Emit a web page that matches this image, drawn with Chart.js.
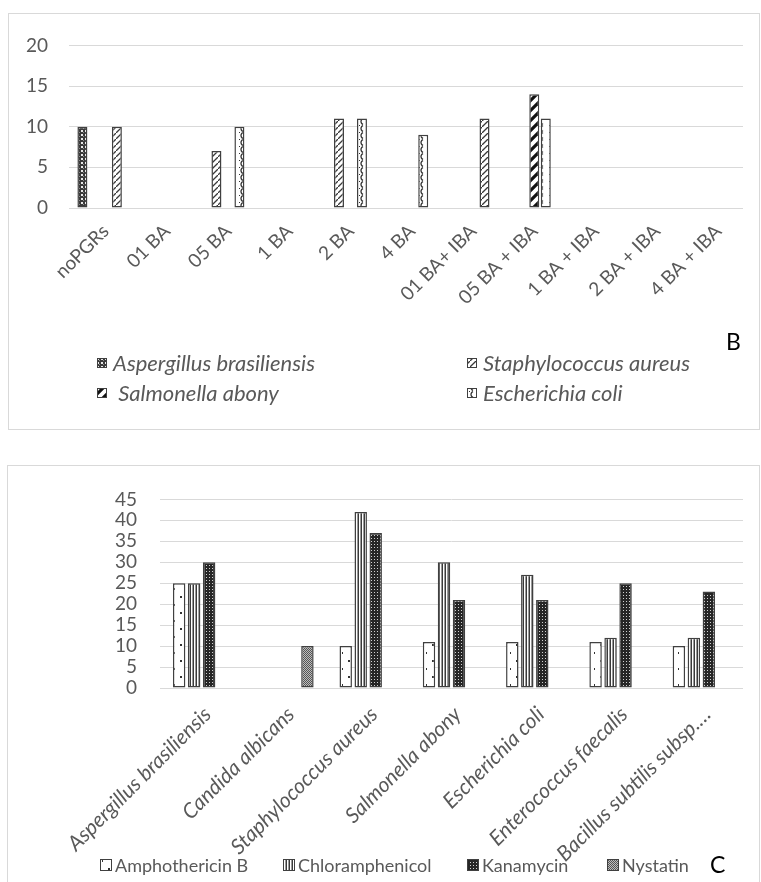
<!DOCTYPE html>
<html>
<head>
<meta charset="utf-8">
<script src="https://cdn.jsdelivr.net/npm/chart.js@4.4.0/dist/chart.umd.min.js"></script>
<style>
body { margin: 0; background: #fff; width: 761px; height: 882px; overflow: hidden; position: relative; }
.box { position: absolute; border: 1px solid #d9d9d9; box-sizing: border-box; }
#boxB { left: 8px; top: 13px; width: 752px; height: 417px; }
#boxC { left: 7px; top: 465px; width: 753px; height: 430px; }
canvas { position: absolute; }
#chartB { left: 8px; top: 13px; }
#chartC { left: 7px; top: 465px; }
</style>
</head>
<body>
<div class="box" id="boxB"></div>
<div class="box" id="boxC"></div>
<canvas id="chartB" width="752" height="417"></canvas>
<canvas id="chartC" width="753" height="417"></canvas>
<script>
// ---- data chart B (zone hambat per perlakuan PGR) ----
const treatments = ['noPGRs', '01 BA', '05 BA', '1 BA', '2 BA', '4 BA', '01 BA+ IBA', '05 BA + IBA', '1 BA + IBA', '2 BA + IBA', '4 BA + IBA'];
const aspergillusB = [10, null, null, null, null, null, null, null, null, null, null];
const staphB = [null, null, 7, null, 11, null, null, null, null, null, null];
const salmonellaB = [null, null, null, null, null, null, null, 14, null, null, null];
const ecoliB = [10, null, 10, null, 11, 9, 11, 11, null, null, null];
const ticksB = [0, 5, 10, 15, 20];

// ---- data chart C (antibiotik kontrol) ----
const organisms = ['Aspergillus brasiliensis', 'Candida albicans', 'Staphylococcus aureus', 'Salmonella abony', 'Escherichia coli', 'Enterococcus faecalis', 'Bacillus subtilis subsp.\u2026'];
const amphotericin = [25, null, 10, 11, 11, 11, 10];
const chloramphenicol = [25, null, 42, 30, 27, 12, 12];
const kanamycin = [30, null, 37, 21, 21, 25, 23];
const nystatin = [null, 10, null, null, null, null, null];
const ticksC = [0, 5, 10, 15, 20, 25, 30, 35, 40, 45];

const GRAY_TEXT = '#595959';
const GRID = '#d9d9d9';
const EDGE = '#404040';

// bikin pola arsir kecil
function makePattern(w, h, draw) {
    const c = document.createElement('canvas');
    c.width = w; c.height = h;
    const g = c.getContext('2d');
    draw(g, w, h);
    return g.createPattern(c, 'repeat');
}

const pat = {
    asp: makePattern(4, 4, (g) => {
        g.fillStyle = '#3a3a3a'; g.fillRect(0, 0, 4, 4);
        g.fillStyle = '#e8e8e8';
        g.fillRect(1, 1, 2, 2);
        g.fillStyle = '#8a8a8a';
        g.fillRect(3, 3, 1, 1);
    }),
    staph: makePattern(6, 6, (g) => {
        g.fillStyle = '#fff'; g.fillRect(0, 0, 6, 6);
        g.strokeStyle = '#3a3a3a'; g.lineWidth = 1.3;
        g.beginPath(); g.moveTo(-1, 7); g.lineTo(7, -1); g.stroke();
    }),
    salm: makePattern(10, 10, (g) => {
        g.fillStyle = '#fff'; g.fillRect(0, 0, 10, 10);
        g.strokeStyle = '#111'; g.lineWidth = 3.2;
        g.beginPath(); g.moveTo(-2, 12); g.lineTo(12, -2); g.stroke();
        g.beginPath(); g.moveTo(-2, 2); g.lineTo(2, -2); g.stroke();
        g.beginPath(); g.moveTo(8, 12); g.lineTo(12, 8); g.stroke();
    }),
    ecoli: makePattern(10, 7, (g) => {
        g.fillStyle = '#fff'; g.fillRect(0, 0, 10, 7);
        g.strokeStyle = '#333'; g.lineWidth = 1.3;
        g.beginPath(); g.arc(6, 3.5, 3, Math.PI * 0.6, Math.PI * 1.4); g.stroke();
        g.fillStyle = '#333'; g.fillRect(1, 0, 1, 1);
    }),
    amph: makePattern(12, 16, (g) => {
        g.fillStyle = '#fff'; g.fillRect(0, 0, 12, 16);
        g.fillStyle = '#333';
        g.fillRect(5, 3, 2, 2);
        g.fillRect(11, 11, 1, 2);
    }),
    chlor: makePattern(3, 2, (g) => {
        g.fillStyle = '#3a3a3a'; g.fillRect(0, 0, 3, 2);
        g.fillStyle = '#fff'; g.fillRect(1, 0, 1, 2);
        g.fillStyle = '#9a9a9a'; g.fillRect(2, 0, 1, 2);
    }),
    kan: makePattern(3, 3, (g) => {
        g.fillStyle = '#262626'; g.fillRect(0, 0, 3, 3);
        g.fillStyle = '#d0d0d0'; g.fillRect(1, 1, 1, 1);
    }),
    nys: makePattern(2, 2, (g) => {
        g.fillStyle = '#bdbdbd'; g.fillRect(0, 0, 2, 2);
        g.fillStyle = '#555'; g.fillRect(0, 0, 1, 1); g.fillRect(1, 1, 1, 1);
    })
};

// dua batang di slot E. coli memakai arsiran S. aureus (seperti di gambar asli)
const ecoliFill = ecoliB.map((v, i) => (i === 0 || i === 6) ? pat.staph : pat.ecoli);

// legend manual (posisi tetap, pola sama dengan batang)
const fixedLegend = {
    id: 'fixedLegend',
    afterDraw(chart, args, opts) {
        if (!opts.items) return;
        const ctx = chart.ctx;
        ctx.save();
        ctx.font = opts.font;
        ctx.textBaseline = 'middle';
        opts.items.forEach(it => {
            const s = opts.box;
            ctx.fillStyle = it.fill;
            ctx.fillRect(it.x, it.y - s / 2, s, s);
            ctx.strokeStyle = EDGE; ctx.lineWidth = 1;
            ctx.strokeRect(it.x + 0.5, it.y - s / 2 + 0.5, s - 1, s - 1);
            ctx.fillStyle = GRAY_TEXT;
            ctx.fillText(it.text, it.x + s + opts.gap, it.y + 1);
        });
        if (opts.tag) {
            ctx.font = '23px Lato, sans-serif';
            ctx.fillStyle = '#000';
            ctx.fillText(opts.tag.text, opts.tag.x, opts.tag.y);
        }
        ctx.restore();
    }
};

function barDs(label, data, fill) {
    return { label: label, data: data, backgroundColor: fill, borderColor: EDGE, borderWidth: 1.5, borderSkipped: false };
}

try {
    new Chart(document.getElementById('chartB'), {
        type: 'bar',
        data: {
            labels: treatments,
            datasets: [
                barDs('Aspergillus brasiliensis', aspergillusB, pat.asp),
                barDs('Staphylococcus aureus', staphB, pat.staph),
                barDs(' Salmonella abony', salmonellaB, pat.salm),
                barDs('Escherichia coli', ecoliB, ecoliFill)
            ]
        },
        plugins: [fixedLegend],
        options: {
            responsive: false,
            animation: false,
            layout: { padding: { top: 28, right: 17, left: 0, bottom: 0 } },
            datasets: { bar: { categoryPercentage: 0.75, barPercentage: 0.87 } },
            plugins: {
                legend: { display: false },
                tooltip: { enabled: false },
                fixedLegend: {
                    font: 'italic 22px Lato, sans-serif', box: 10, gap: 6,
                    items: [
                        { text: 'Aspergillus brasiliensis', fill: pat.asp, x: 89, y: 350 },
                        { text: 'Staphylococcus aureus', fill: pat.staph, x: 459, y: 350 },
                        { text: ' Salmonella abony', fill: pat.salm, x: 89, y: 380 },
                        { text: 'Escherichia coli', fill: pat.ecoli, x: 459, y: 380 }
                    ],
                    tag: { text: 'B', x: 718, y: 330 }
                }
            },
            scales: {
                x: {
                    grid: { display: false, drawTicks: false },
                    border: { display: false },
                    ticks: { color: GRAY_TEXT, font: { family: 'Lato', size: 19 }, minRotation: 45, maxRotation: 45, autoSkip: false, padding: 12, labelOffset: 6 },
                    afterFit: s => { s.height = 222; }
                },
                y: {
                    min: 0, max: 20,
                    afterBuildTicks: s => { s.ticks = ticksB.map(v => ({ value: v })); },
                    grid: { color: GRID, lineWidth: 1, drawTicks: false },
                    border: { display: false },
                    ticks: { color: GRAY_TEXT, font: { family: 'Lato', size: 19 }, padding: 21, autoSkip: false },
                    afterFit: s => { s.width = 61; }
                }
            }
        }
    });
} catch (err) { console.error('chart B gagal:', err); }

try {
    new Chart(document.getElementById('chartC'), {
        type: 'bar',
        data: {
            labels: organisms,
            datasets: [
                barDs('Amphothericin B', amphotericin, pat.amph),
                barDs('Chloramphenicol', chloramphenicol, pat.chlor),
                barDs('Kanamycin', kanamycin, pat.kan),
                barDs('Nystatin', nystatin, pat.nys)
            ]
        },
        plugins: [fixedLegend],
        options: {
            responsive: false,
            animation: false,
            layout: { padding: { top: 13, right: 17, left: 0, bottom: 0 } },
            datasets: { bar: { categoryPercentage: 0.72, barPercentage: 0.83 } },
            plugins: {
                legend: { display: false },
                tooltip: { enabled: false },
                fixedLegend: {
                    font: '18px Lato, sans-serif', box: 12, gap: 3,
                    items: [
                        { text: 'Amphothericin B', fill: pat.amph, x: 93, y: 400 },
                        { text: 'Chloramphenicol', fill: pat.chlor, x: 276, y: 400 },
                        { text: 'Kanamycin', fill: pat.kan, x: 460, y: 400 },
                        { text: 'Nystatin', fill: pat.nys, x: 600, y: 400 }
                    ],
                    tag: { text: 'C', x: 703, y: 401 }
                }
            },
            scales: {
                x: {
                    grid: { display: false, drawTicks: false },
                    border: { display: false },
                    ticks: { color: GRAY_TEXT, font: { family: 'Lato', size: 21, style: 'italic' }, minRotation: 45, maxRotation: 45, autoSkip: false, padding: 14, labelOffset: 6 },
                    afterFit: s => { s.height = 194; }
                },
                y: {
                    min: 0, max: 45,
                    afterBuildTicks: s => { s.ticks = ticksC.map(v => ({ value: v })); },
                    grid: { color: GRID, lineWidth: 1, drawTicks: false },
                    border: { display: false },
                    ticks: { color: GRAY_TEXT, font: { family: 'Lato', size: 19 }, padding: 23, autoSkip: false },
                    afterFit: s => { s.width = 153; }
                }
            }
        }
    });
} catch (err) { console.error('chart C gagal:', err); }
</script>
</body>
</html>
